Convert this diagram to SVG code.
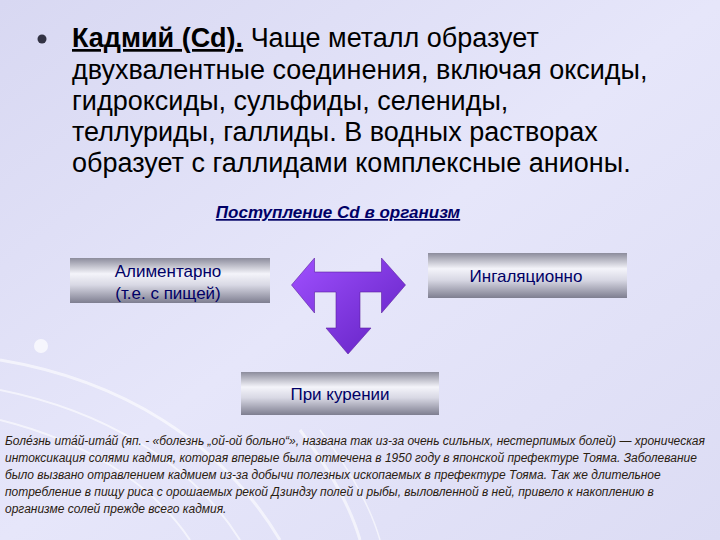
<svg xmlns="http://www.w3.org/2000/svg" width="720" height="540" viewBox="0 0 720 540">
<defs>
<linearGradient id="bg" x1="0" y1="0" x2="1" y2="1"><stop offset="0" stop-color="#d8d8f2"/><stop offset="0.5" stop-color="#e6e6fa"/><stop offset="1" stop-color="#dcdcf4"/></linearGradient>
<linearGradient id="box" x1="0" y1="0" x2="0" y2="1"><stop offset="0" stop-color="#8c8c9c"/><stop offset="0.35" stop-color="#f4f4fa"/><stop offset="0.6" stop-color="#d8d8e4"/><stop offset="1" stop-color="#7e7e90"/></linearGradient>
<linearGradient id="arr" x1="0" y1="0" x2="1" y2="1"><stop offset="0" stop-color="#a050ff"/><stop offset="1" stop-color="#6020c0"/></linearGradient>
<style>
.bt{font-family:"Liberation Sans",Arial,sans-serif;font-size:17px;fill:#000066;text-anchor:middle}
.mt{font-family:"Liberation Sans",Arial,sans-serif;font-size:27px;fill:#000000}
.ft{font-family:"Liberation Sans",Arial,sans-serif;font-size:12px;font-style:italic;fill:#2a2010}
</style>
</defs>
<rect width="720" height="540" fill="url(#bg)"/>
<g fill="none" stroke="#ffffff" opacity="0.6">
<path d="M0,360 C120,380 220,440 280,540" stroke-width="3"/>
<path d="M0,390 C100,410 190,460 240,540" stroke-width="2"/>
<path d="M0,420 C80,440 150,480 190,540" stroke-width="2"/>
<path d="M300,430 C330,470 350,505 360,540" stroke-width="3"/>
<path d="M320,430 C350,470 370,505 380,540" stroke-width="1.5"/>
</g>
<circle cx="41" cy="346" r="7" fill="#ffffff" opacity="0.7"/>
<g id="heading">
<circle cx="42" cy="39" r="4.5" fill="#333344"/>
<text class="mt" x="72" y="47"><tspan font-weight="bold" text-decoration="underline">Кадмий (Cd).</tspan> Чаще металл образует</text>
<text class="mt" x="72" y="79">двухвалентные соединения, включая оксиды,</text>
<text class="mt" x="72" y="110">гидроксиды, сульфиды, селениды,</text>
<text class="mt" x="72" y="141">теллуриды, галлиды. В водных растворах</text>
<text class="mt" x="72" y="172">образует с галлидами комплексные анионы.</text>
</g>
<g id="title"><text x="338" y="218" text-anchor="middle" font-family="Liberation Sans,Arial,sans-serif" font-size="17" font-weight="bold" font-style="italic" text-decoration="underline" fill="#000066">Поступление Cd в организм</text></g>
<g id="connectors">
<polygon points="291.5,285 314.5,258 314.5,272 381.5,272 381.5,258 405.5,285 381.5,313 381.5,292 360,292 360,328 371,328 348,354 326,328 336,328 336,292 314.5,292 314.5,313" fill="url(#arr)" stroke="#5a20a0" stroke-width="0.6"/>
</g>
<g id="node-alim"><rect x="70" y="258" width="200" height="45" fill="url(#box)"/><text class="bt" x="168" y="277">Алиментарно</text><text class="bt" x="168" y="299">(т.е. с пищей)</text></g>
<g id="node-ingal"><rect x="428" y="253" width="199" height="45" fill="url(#box)"/><text class="bt" x="526" y="282">Ингаляционно</text></g>
<g id="node-kur"><rect x="241" y="372" width="198" height="43" fill="url(#box)"/><text class="bt" x="340" y="400">При курении</text></g>
<g id="footnote">
<text class="ft" x="5" y="445">Боле́знь ита́й-ита́й (яп. - «болезнь „ой-ой больно“», названа так из-за очень сильных, нестерпимых болей) — хроническая</text>
<text class="ft" x="5" y="462">интоксикация солями кадмия, которая впервые была отмечена в 1950 году в японской префектуре Тояма. Заболевание</text>
<text class="ft" x="5" y="479">было вызвано отравлением кадмием из-за добычи полезных ископаемых в префектуре Тояма. Так же длительное</text>
<text class="ft" x="5" y="496">потребление в пищу риса с орошаемых рекой  Дзиндзу полей и рыбы, выловленной в ней, привело к накоплению в</text>
<text class="ft" x="5" y="513">организме солей прежде всего кадмия.</text>
</g>
</svg>
